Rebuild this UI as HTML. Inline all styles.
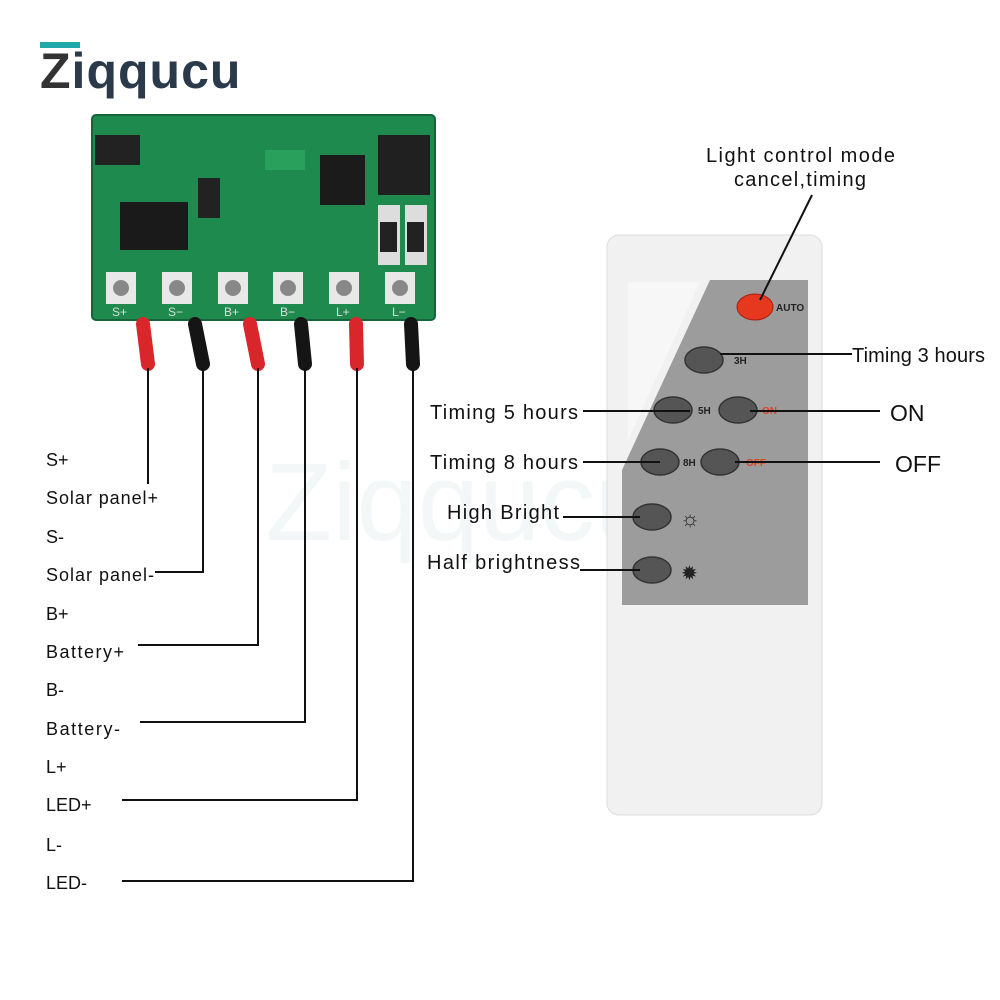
<!DOCTYPE html>
<html><head><meta charset="utf-8"><style>
body{margin:0;background:#fff}
svg{display:block}
text{font-family:"Liberation Sans",sans-serif}
</style></head><body>
<svg width="1000" height="1000" viewBox="0 0 1000 1000">
<!-- logo -->
<text x="40" y="88" font-size="50" font-weight="bold" fill="#333" letter-spacing="1">Z<tspan fill="#2a3a4a">iqqucu</tspan></text>
<rect x="40" y="42" width="40" height="6" fill="#2aa" />
<text x="265" y="540" font-size="110" fill="#eef3f4" opacity="0.6">Ziqqucu</text>
<!-- PCB -->
<rect x="92" y="115" width="343" height="205" rx="4" fill="#1f8a4e"/>
<rect x="92" y="115" width="343" height="205" rx="4" fill="none" stroke="#14663a" stroke-width="2"/>
<rect x="95" y="135" width="45" height="30" fill="#222"/>
<rect x="120" y="202" width="68" height="48" fill="#1a1a1a"/>
<rect x="198" y="178" width="22" height="40" fill="#222"/>
<rect x="320" y="155" width="45" height="50" fill="#1b1b1b"/>
<rect x="378" y="135" width="52" height="60" fill="#202020"/>
<rect x="378" y="205" width="22" height="60" fill="#ddd"/><rect x="405" y="205" width="22" height="60" fill="#ddd"/>
<rect x="380" y="222" width="17" height="30" fill="#222"/><rect x="407" y="222" width="17" height="30" fill="#222"/>
<rect x="265" y="150" width="40" height="20" fill="#29a05c"/>
<g fill="#e8e8e8">
<rect x="106" y="272" width="30" height="32"/><rect x="162" y="272" width="30" height="32"/><rect x="218" y="272" width="30" height="32"/><rect x="273" y="272" width="30" height="32"/><rect x="329" y="272" width="30" height="32"/><rect x="385" y="272" width="30" height="32"/>
</g>
<g fill="#888"><circle cx="121" cy="288" r="8"/><circle cx="177" cy="288" r="8"/><circle cx="233" cy="288" r="8"/><circle cx="288" cy="288" r="8"/><circle cx="344" cy="288" r="8"/><circle cx="400" cy="288" r="8"/></g>
<g font-size="12" fill="#ddd"><text x="112" y="316">S+</text><text x="168" y="316">S−</text><text x="224" y="316">B+</text><text x="280" y="316">B−</text><text x="336" y="316">L+</text><text x="392" y="316">L−</text></g>
<!-- wires -->
<g stroke-width="14" stroke-linecap="round">
<line x1="143" y1="324" x2="148" y2="364" stroke="#d8262a"/>
<line x1="195" y1="324" x2="203" y2="364" stroke="#151515"/>
<line x1="250" y1="324" x2="258" y2="364" stroke="#d8262a"/>
<line x1="301" y1="324" x2="305" y2="364" stroke="#151515"/>
<line x1="356" y1="324" x2="357" y2="364" stroke="#d8262a"/>
<line x1="411" y1="324" x2="413" y2="364" stroke="#151515"/>
</g>
<g stroke="#111" stroke-width="2" fill="none">
<polyline points="148,368 148,484"/>
<polyline points="203,368 203,572 155,572"/>
<polyline points="258,368 258,645 138,645"/>
<polyline points="305,368 305,722 140,722"/>
<polyline points="357,368 357,800 122,800"/>
<polyline points="413,368 413,881 122,881"/>
</g>
<g font-size="18" fill="#111">
<text x="46" y="466">S+</text><text x="46" y="504" textLength="112">Solar panel+</text>
<text x="46" y="543">S-</text><text x="46" y="581" textLength="108">Solar panel-</text>
<text x="46" y="620">B+</text><text x="46" y="658" textLength="78">Battery+</text>
<text x="46" y="696">B-</text><text x="46" y="735" textLength="74">Battery-</text>
<text x="46" y="773">L+</text><text x="46" y="811">LED+</text>
<text x="46" y="851">L-</text><text x="46" y="889">LED-</text>
</g>
<!-- remote -->
<rect x="607" y="235" width="215" height="580" rx="12" fill="#f1f1f1" stroke="#ddd"/>
<polygon points="710,280 808,280 808,605 622,605 622,470" fill="#9c9c9c"/>
<polygon points="628,282 700,282 628,440" fill="#f7f7f7"/>
<g fill="#555" stroke="#333" stroke-width="1.5">
<ellipse cx="704" cy="360" rx="19" ry="13"/>
<ellipse cx="673" cy="410" rx="19" ry="13"/><ellipse cx="738" cy="410" rx="19" ry="13"/>
<ellipse cx="660" cy="462" rx="19" ry="13"/><ellipse cx="720" cy="462" rx="19" ry="13"/>
<ellipse cx="652" cy="517" rx="19" ry="13"/><ellipse cx="652" cy="570" rx="19" ry="13"/>
</g>
<ellipse cx="755" cy="307" rx="18" ry="13" fill="#e6381f" stroke="#a82010"/>
<g font-size="10" font-weight="bold" fill="#222"><text x="776" y="311">AUTO</text><text x="734" y="364">3H</text><text x="698" y="414">5H</text><text x="683" y="466">8H</text></g>
<g font-size="10" font-weight="bold" fill="#d42"><text x="762" y="414">ON</text><text x="746" y="466">OFF</text></g>
<text x="680" y="526" font-size="22" fill="#222">☼</text>
<text x="681" y="580" font-size="20" fill="#222">✹</text>
<!-- callouts -->
<g stroke="#111" stroke-width="2">
<line x1="812" y1="195" x2="760" y2="300"/>
<line x1="720" y1="354" x2="852" y2="354"/>
<line x1="583" y1="411" x2="690" y2="411"/>
<line x1="750" y1="411" x2="880" y2="411"/>
<line x1="583" y1="462" x2="660" y2="462"/>
<line x1="735" y1="462" x2="880" y2="462"/>
<line x1="563" y1="517" x2="640" y2="517"/>
<line x1="580" y1="570" x2="640" y2="570"/>
</g>
<g font-size="20" fill="#111">
<text x="706" y="162" textLength="189">Light control mode</text>
<text x="734" y="186" textLength="132">cancel,timing</text>
<text x="852" y="362" textLength="133">Timing 3 hours</text>
<text x="430" y="419" textLength="148">Timing 5 hours</text>
<text x="430" y="469" textLength="148">Timing 8 hours</text>
<text x="447" y="519" textLength="112">High Bright</text>
<text x="427" y="569" textLength="153">Half brightness</text>
<text x="890" y="421" font-size="23">ON</text>
<text x="895" y="472" font-size="23">OFF</text>
</g>
</svg>
</body></html>
